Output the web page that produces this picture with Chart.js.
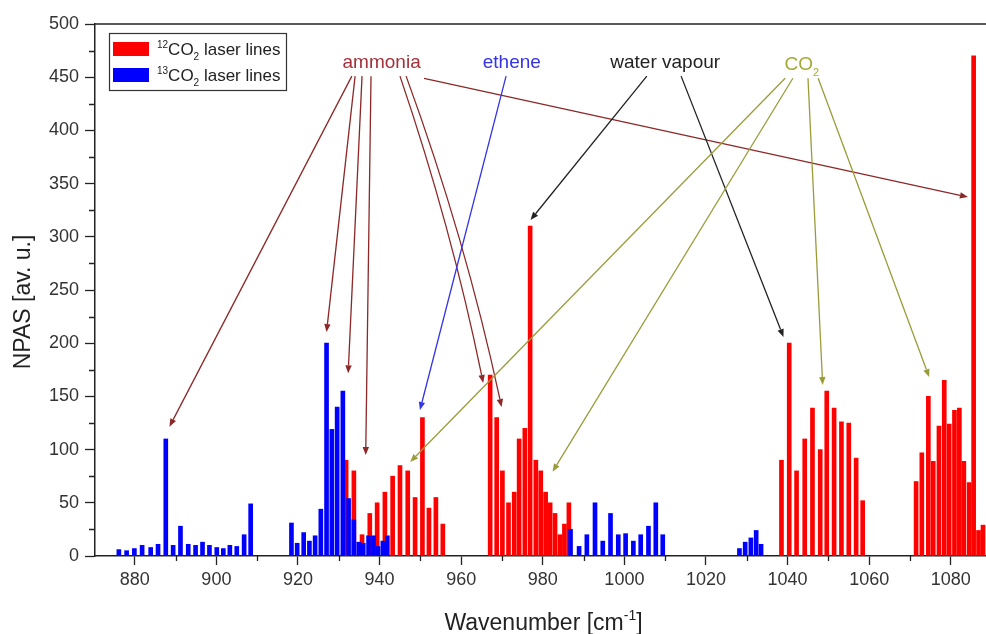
<!DOCTYPE html>
<html>
<head>
<meta charset="utf-8">
<script src="https://cdn.jsdelivr.net/npm/chart.js@4.4.1/dist/chart.umd.min.js"></script>
<style>
  html, body { margin: 0; padding: 0; background: #fff; overflow: hidden; }
  #wrap { width: 992px; height: 634px; }
</style>
</head>
<body>
<div id="wrap"><canvas id="npas" width="992" height="634"></canvas></div>
<script>
// --- DATA ---
const co2_12_wavenumber = [
  931.8, 933.7, 935.7, 937.6, 939.4, 941.3, 943.2, 945.0, 946.9, 948.7, 950.5, 952.1, 953.8, 955.5,
  967.1, 968.7, 970.1, 971.6, 973.0, 974.2, 975.6, 976.9, 978.3, 979.5, 980.7, 981.8, 983.0, 984.2, 985.3, 986.4,
  1038.5, 1040.4, 1042.2, 1044.2, 1046.1, 1048.0, 1049.6, 1051.4, 1053.2, 1055.0, 1056.8, 1058.4,
  1071.5, 1072.9, 1074.5, 1075.7, 1077.1, 1078.4, 1079.6, 1080.9, 1082.1, 1083.2, 1084.5, 1085.6, 1086.8, 1087.9
];
const co2_12_npas = [
  90, 80, 20, 40, 50, 60, 75, 85, 80, 55, 130, 45, 55, 30,
  170, 130, 80, 50, 60, 110, 120, 310, 90, 80, 60, 50, 40, 20, 30, 50,
  90, 200, 80, 110, 139, 100, 155, 139, 126, 125, 92, 52,
  70, 97, 150, 89, 122, 165, 124, 137, 139, 89, 69, 470, 24, 29
];
const co2_13_wavenumber = [
  876.1, 878.0, 879.9, 881.8, 883.9, 885.7, 887.6, 889.4, 891.2, 893.1, 894.9, 896.6, 898.3, 900.1, 901.7, 903.3, 905.0, 906.8, 908.4,
  918.4, 919.8, 921.4, 922.8, 924.2, 925.6, 927.0, 928.3, 929.6, 931.0, 932.4, 933.7, 934.9, 936.0, 937.3, 938.5, 939.6, 940.8, 941.9,
  986.8, 988.9, 990.8, 992.8, 994.7, 996.6, 998.5, 1000.3, 1002.2, 1004.0, 1005.9, 1007.7, 1009.4,
  1028.2, 1029.6, 1031.0, 1032.3, 1033.5
];
const co2_13_npas = [
  6, 5, 7, 10, 8, 11, 110, 10, 28, 11, 10, 13, 10, 8, 7, 10, 9, 20, 49,
  31, 12, 22, 14, 19, 44, 200, 119, 140, 155, 54, 34, 13, 12, 19, 19, 9, 14, 19,
  25, 9, 20, 50, 14, 40, 20, 21, 14, 20, 28, 50, 20,
  7, 13, 17, 24, 11
];
const xTickValues = [880, 900, 920, 940, 960, 980, 1000, 1020, 1040, 1060, 1080];
const yTickValues = [0, 50, 100, 150, 200, 250, 300, 350, 400, 450, 500];

// annotation labels and arrows, in data units [wavenumber, NPAS]
const labels = [
  { parts: [['ammonia']], at: [940.5, 465], color: '#a3303a' },
  { parts: [['ethene']], at: [972.4, 465], color: '#3434e6' },
  { parts: [['water vapour']], at: [1010.0, 465], color: '#222222' },
  { parts: [['CO'], ['2', 'sub']], at: [1043.5, 463], color: '#a6aa34' }
];
const arrows = [
  // ammonia
  { from: [933.2, 451], to: [888.5, 121.5], color: '#8c2828' },
  { from: [934.0, 451], to: [927.0, 210.5], color: '#8c2828' },
  { from: [935.7, 451], to: [932.3, 171.7], color: '#8c2828' },
  { from: [937.9, 451], to: [936.6, 95], color: '#8c2828' },
  { from: [945.0, 451], to: [965.4, 162.6], color: '#8c2828', bend: 10 },
  { from: [946.5, 451], to: [969.9, 140], color: '#8c2828', bend: 12 },
  { from: [950.9, 449], to: [1084.2, 337.4], color: '#8c2828' },
  // ethene
  { from: [971.0, 451], to: [949.9, 137.2], color: '#3434e6' },
  // water vapour
  { from: [1005.5, 451], to: [977.0, 315.8], color: '#222222' },
  { from: [1013.9, 451], to: [1039.0, 205.8], color: '#222222' },
  // CO2
  { from: [1039.4, 449], to: [947.5, 88.3], color: '#9a9c3a' },
  { from: [1041.3, 449], to: [982.4, 79.2], color: '#9a9c3a' },
  { from: [1045.0, 449], to: [1048.6, 160.7], color: '#9a9c3a' },
  { from: [1047.5, 449], to: [1074.7, 168.2], color: '#9a9c3a' }
];

const FONT = "'Liberation Sans', Arial, sans-serif";
const AXIS = '#222222';

// --- HELPERS ---
function richText(ctx, parts, x, y, size, align) {
  const fontFor = p => `${p[1] ? Math.round(size * 0.6) : size}px ${FONT}`;
  let total = 0;
  parts.forEach(p => { ctx.font = fontFor(p); total += ctx.measureText(p[0]).width; });
  let cx = align === 'center' ? x - total / 2 : x;
  ctx.textAlign = 'left';
  ctx.textBaseline = 'alphabetic';
  parts.forEach(p => {
    ctx.font = fontFor(p);
    const dy = p[1] === 'sup' ? -size * 0.42 : p[1] === 'sub' ? size * 0.28 : 0;
    ctx.fillText(p[0], cx, y + dy);
    cx += ctx.measureText(p[0]).width;
  });
}

function drawArrow(ctx, x0, y0, x1, y1, color, bend) {
  const dx = x1 - x0, dy = y1 - y0, len = Math.hypot(dx, dy);
  let cx = (x0 + x1) / 2, cy = (y0 + y1) / 2;
  if (bend) { cx += dy / len * bend; cy -= dx / len * bend; }
  const ax = x1 - cx, ay = y1 - cy, al = Math.hypot(ax, ay);
  const ux = ax / al, uy = ay / al;
  const head = 8, half = 3.2;
  const bx = x1 - ux * head, by = y1 - uy * head;
  ctx.strokeStyle = color;
  ctx.fillStyle = color;
  ctx.lineWidth = 1.3;
  ctx.beginPath();
  ctx.moveTo(x0, y0);
  if (bend) ctx.quadraticCurveTo(cx, cy, bx, by); else ctx.lineTo(bx, by);
  ctx.stroke();
  ctx.beginPath();
  ctx.moveTo(x1, y1);
  ctx.lineTo(bx - uy * half, by + ux * half);
  ctx.lineTo(bx + uy * half, by - ux * half);
  ctx.closePath();
  ctx.fill();
}

// --- OVERLAY: frame, minor ticks, titles, legend, annotations ---
const overlay = {
  id: 'overlay',
  afterDraw(chart) {
    const { ctx, chartArea: area, scales: { x, y } } = chart;
    ctx.save();

    // top frame line
    ctx.strokeStyle = AXIS;
    ctx.lineWidth = 1.5;
    ctx.beginPath();
    ctx.moveTo(area.left, area.top);
    ctx.lineTo(area.right, area.top);
    ctx.stroke();

    // minor ticks, halfway between the major ones
    ctx.lineWidth = 1.3;
    ctx.beginPath();
    for (let v = 25; v < y.max; v += 50) {
      const py = Math.round(y.getPixelForValue(v)) + 0.5;
      ctx.moveTo(area.left - 6, py);
      ctx.lineTo(area.left, py);
    }
    for (let v = 890; v <= x.max; v += 20) {
      const px = Math.round(x.getPixelForValue(v)) + 0.5;
      ctx.moveTo(px, area.bottom);
      ctx.lineTo(px, area.bottom + 5);
    }
    ctx.stroke();

    // axis titles
    ctx.fillStyle = AXIS;
    richText(ctx, [['Wavenumber [cm'], ['-1', 'sup'], [']']], (area.left + area.right) / 2, 630, 23, 'center');
    ctx.save();
    ctx.translate(30, 302);
    ctx.rotate(-Math.PI / 2);
    richText(ctx, [['NPAS [av. u.]']], 0, 0, 23, 'center');
    ctx.restore();

    // legend
    const lx = area.left + 14, ly = area.top + 9;
    ctx.strokeStyle = '#333';
    ctx.lineWidth = 1.2;
    ctx.strokeRect(lx + 0.5, ly + 0.5, 177, 57);
    const rows = [['12', '#ff0000'], ['13', '#0000ff']];
    rows.forEach((r, i) => {
      const ry = ly + 9 + i * 26;
      ctx.fillStyle = r[1];
      ctx.fillRect(lx + 4, ry, 36, 14);
      ctx.fillStyle = AXIS;
      richText(ctx, [[r[0], 'sup'], ['CO'], ['2', 'sub'], [' laser lines']], lx + 48, ry + 13, 17, 'left');
    });

    // annotations
    arrows.forEach(a => {
      drawArrow(ctx,
        x.getPixelForValue(a.from[0]), y.getPixelForValue(a.from[1]),
        x.getPixelForValue(a.to[0]), y.getPixelForValue(a.to[1]),
        a.color, a.bend);
    });
    labels.forEach(l => {
      ctx.fillStyle = l.color;
      richText(ctx, l.parts, x.getPixelForValue(l.at[0]), y.getPixelForValue(l.at[1]) + 7, 19, 'center');
    });

    ctx.restore();
  }
};

// --- CHART ---
const toPoints = (xs, ys) => xs.map((w, i) => ({ x: w, y: ys[i] }));

new Chart(document.getElementById('npas'), {
  type: 'bar',
  data: {
    datasets: [
      { label: '13CO2 laser lines', data: toPoints(co2_13_wavenumber, co2_13_npas), backgroundColor: '#0000ff' },
      { label: '12CO2 laser lines', data: toPoints(co2_12_wavenumber, co2_12_npas), backgroundColor: '#ff0000' }
    ]
  },
  options: {
    responsive: false,
    animation: false,
    layout: { padding: { top: 24, left: 0, right: 0, bottom: 0 } },
    datasets: { bar: { barThickness: 4, grouped: false, borderWidth: 0 } },
    plugins: { legend: { display: false }, tooltip: { enabled: false } },
    scales: {
      x: {
        type: 'linear',
        min: 870.25,
        max: 1090.1,
        offset: false,
        afterBuildTicks: s => { s.ticks = xTickValues.map(v => ({ value: v })); },
        afterFit: s => { s.height = 78; s.paddingLeft = 0; s.paddingRight = 0; },
        grid: { offset: false, drawOnChartArea: false, tickLength: 9, tickColor: AXIS, tickWidth: 1.3 },
        border: { color: AXIS, width: 1.5 },
        ticks: {
          autoSkip: false,
          maxRotation: 0,
          padding: 4,
          color: '#333',
          font: { family: FONT, size: 18 },
          callback: v => String(v)
        }
      },
      y: {
        min: 0,
        max: 500,
        afterBuildTicks: s => { s.ticks = yTickValues.map(v => ({ value: v })); },
        afterFit: s => { s.width = 95; },
        grid: { drawOnChartArea: false, tickLength: 10, tickColor: AXIS, tickWidth: 1.3 },
        border: { color: AXIS, width: 1.5 },
        ticks: {
          padding: 6,
          color: '#333',
          font: { family: FONT, size: 18 },
          callback: v => String(v)
        }
      }
    }
  },
  plugins: [overlay]
});
</script>
</body>
</html>
